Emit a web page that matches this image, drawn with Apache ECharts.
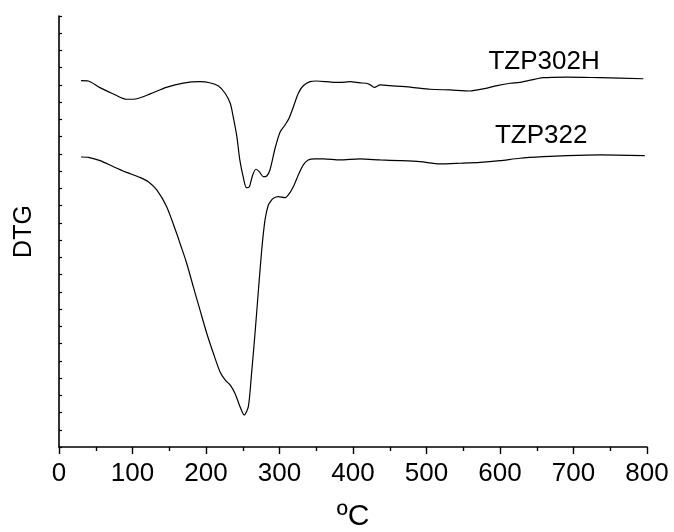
<!DOCTYPE html>
<html>
<head>
<meta charset="utf-8">
<script src="https://cdn.jsdelivr.net/npm/echarts@6/dist/echarts.min.js"></script>
<style>
  html, body { margin: 0; padding: 0; background: #fff; }
  #chart { width: 674px; height: 532px; }
</style>
</head>
<body>
<div id="chart"></div>
<script>
// Temperature (ºC) sample points for each DTG trace
const tzp302hTemp = [30, 40, 55, 74, 92, 106, 124, 146, 169, 192, 205, 217, 226, 233, 237, 242, 246, 251, 255, 259,
  263.5, 268, 272.5, 278, 282.6, 287, 294, 301, 307.5, 313, 319, 325.6, 332, 341.5, 350.6, 364, 373, 382, 396,
  409.5, 418, 423, 429, 437, 450, 478, 505, 532, 559, 577, 596, 614, 627, 659, 691, 736, 795];
const tzp302hDtg = [21.25, 21.23, 20.86, 20.48, 20.17, 20.20, 20.48, 20.86, 21.11, 21.19, 21.13, 20.94, 20.52, 19.94,
  19.16, 18.00, 16.65, 15.59, 15.04, 15.10, 15.78, 16.11, 15.97, 15.68, 15.72, 16.07, 17.33, 18.29, 18.68, 19.07,
  19.74, 20.52, 20.94, 21.19, 21.23, 21.19, 21.15, 21.15, 21.19, 21.12, 21.10, 21.02, 20.86, 21.00, 20.96, 20.88,
  20.75, 20.71, 20.65, 20.77, 20.96, 21.10, 21.15, 21.42, 21.46, 21.42, 21.36];

const tzp322Temp = [30, 40, 56, 74, 92, 110, 121.5, 133, 146.5, 160, 164.6, 173.7, 182.7, 191.8, 201, 210, 219, 226,
  232.7, 239.5, 246.3, 252, 257.6, 262, 266.7, 271, 275.8, 280.3, 284.8, 289.4, 291.6, 298.4, 307.5, 312, 318.8,
  325.6, 332.4, 339, 348, 360, 382, 409.5, 437, 464, 491, 518, 546, 573, 600, 627, 659, 691, 736, 797];
const tzp322Dtg = [16.82, 16.80, 16.61, 16.26, 15.93, 15.64, 15.39, 14.91, 13.94, 12.40, 11.82, 10.66, 9.30, 7.95,
  6.60, 5.44, 4.37, 3.89, 3.60, 3.11, 2.34, 1.86, 2.34, 4.27, 6.60, 8.92, 11.43, 13.17, 14.04, 14.33, 14.43, 14.52,
  14.46, 14.62, 15.10, 15.78, 16.36, 16.65, 16.71, 16.71, 16.65, 16.71, 16.65, 16.61, 16.55, 16.42, 16.46, 16.51,
  16.61, 16.75, 16.84, 16.90, 16.94, 16.90];

const seriesNames = ['TZP302H', 'TZP322'];
const xTickValues = [0, 100, 200, 300, 400, 500, 600, 700, 800];

const pairs = (xs, ys) => xs.map((x, i) => [x, ys[i]]);
const FONT = '"Liberation Sans", Arial, sans-serif';

const chart = echarts.init(document.getElementById('chart'), null, { renderer: 'canvas' });

// Curve names written next to each trace, anchored in data space
function nameLabel(text, coord) {
  return {
    symbol: 'circle',
    symbolSize: 0,
    silent: true,
    label: { show: true, position: 'inside', formatter: text, color: '#000', fontSize: 26, fontFamily: FONT },
    data: [{ coord: coord }]
  };
}

chart.setOption({
  animation: false,
  backgroundColor: '#fff',
  grid: { left: 59, right: 27, top: 16, bottom: 85, containLabel: false, outerBoundsMode: 'none' },
  xAxis: {
    type: 'value',
    min: xTickValues[0],
    max: xTickValues[xTickValues.length - 1],
    interval: 100,
    name: 'ºC',
    nameLocation: 'middle',
    nameGap: 55,
    nameTextStyle: { color: '#000', fontSize: 30, fontFamily: FONT },
    axisLine: { show: true, onZero: false, lineStyle: { color: '#000', width: 1.6 } },
    axisTick: { show: true, inside: false, length: 7, lineStyle: { color: '#000', width: 1.4 } },
    minorTick: { show: true, splitNumber: 2, length: 4, lineStyle: { color: '#000', width: 1.4 } },
    axisLabel: { color: '#000', fontSize: 26, fontFamily: FONT, margin: 14 },
    splitLine: { show: false },
    minorSplitLine: { show: false }
  },
  yAxis: {
    type: 'value',
    min: 0,
    max: 25,
    interval: 1,
    name: 'DTG',
    nameLocation: 'middle',
    nameGap: 22,
    nameRotate: 90,
    nameTextStyle: { color: '#000', fontSize: 25, fontFamily: FONT },
    axisLine: { show: true, onZero: false, lineStyle: { color: '#000', width: 1.6 } },
    axisTick: { show: true, inside: true, length: 3, lineStyle: { color: '#000', width: 1.2 } },
    axisLabel: { show: false },
    splitLine: { show: false }
  },
  series: [
    {
      name: seriesNames[0],
      type: 'line',
      data: pairs(tzp302hTemp, tzp302hDtg),
      showSymbol: false,
      smooth: 0.25,
      lineStyle: { color: '#000', width: 1.2 },
      markPoint: nameLabel(seriesNames[0], [660, 22.33])
    },
    {
      name: seriesNames[1],
      type: 'line',
      data: pairs(tzp322Temp, tzp322Dtg),
      showSymbol: false,
      smooth: 0.25,
      lineStyle: { color: '#000', width: 1.2 },
      markPoint: nameLabel(seriesNames[1], [656, 18.04])
    }
  ]
});
</script>
</body>
</html>
